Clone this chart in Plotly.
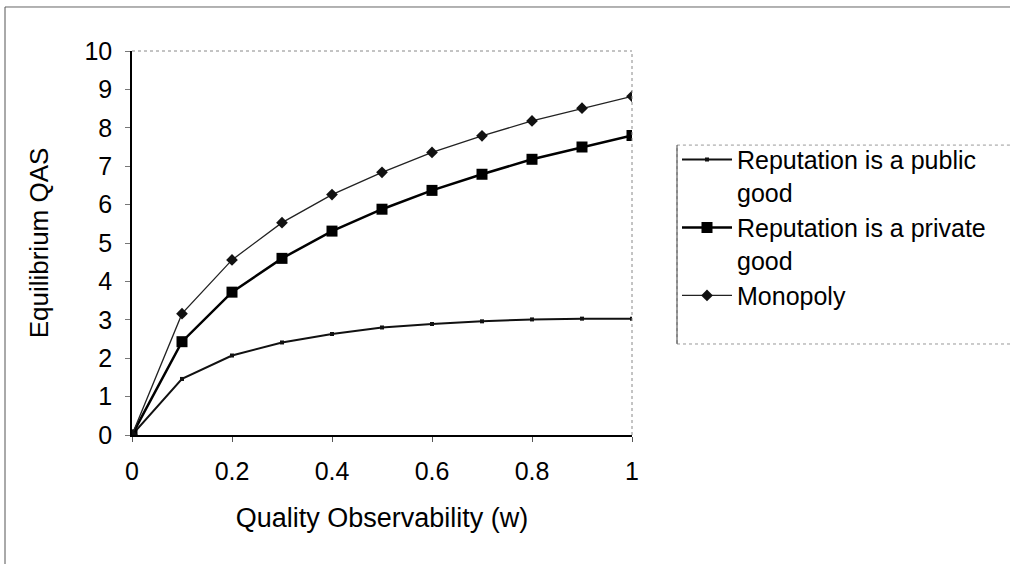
import plotly.graph_objects as go

w = [0, 0.1, 0.2, 0.3, 0.4, 0.5, 0.6, 0.7, 0.8, 0.9, 1.0]
public_good = [0, 1.46, 2.07, 2.41, 2.63, 2.80, 2.89, 2.96, 3.01, 3.03, 3.03]
private_good = [0, 2.43, 3.72, 4.60, 5.31, 5.88, 6.37, 6.79, 7.18, 7.50, 7.80]
monopoly = [0, 3.16, 4.56, 5.53, 6.26, 6.84, 7.36, 7.79, 8.18, 8.51, 8.82]

names = ["Reputation is a public<br>good", "Reputation is a private<br>good", "Monopoly"]
x_ticks = [0, 0.2, 0.4, 0.6, 0.8, 1]
x_labels = ["0", "0.2", "0.4", "0.6", "0.8", "1"]
y_ticks = list(range(0, 11))

FONT = "Liberation Sans, Arial, sans-serif"

fig = go.Figure()
fig.add_trace(go.Scatter(x=w, y=public_good, name=names[0], mode="lines+markers",
                         line=dict(color="#111111", width=2),
                         marker=dict(symbol="square", size=4, color="#111111")))
fig.add_trace(go.Scatter(x=w, y=private_good, name=names[1], mode="lines+markers",
                         line=dict(color="#000000", width=2.5),
                         marker=dict(symbol="square", size=11, color="#000000")))
fig.add_trace(go.Scatter(x=w, y=monopoly, name=names[2], mode="lines+markers",
                         line=dict(color="#222222", width=1.3),
                         marker=dict(symbol="diamond", size=9, color="#111111")))

fig.update_layout(
    width=1010, height=564,
    margin=dict(l=132, r=378, t=51, b=129, autoexpand=False),
    paper_bgcolor="white", plot_bgcolor="white",
    font=dict(family=FONT, size=25, color="#000000"),
    showlegend=True,
    legend=dict(x=1.09, y=0.777, xanchor="left", yanchor="top",
                font=dict(family=FONT, size=25, color="#000000"),
                bgcolor="rgba(0,0,0,0)", borderwidth=0,
                itemwidth=50, valign="top", tracegroupgap=6),
    xaxis=dict(range=[0, 1], tickvals=x_ticks, ticktext=x_labels,
               showgrid=False, zeroline=False, showline=True,
               linecolor="#000000", linewidth=1.5,
               ticks="outside", ticklen=5, tickcolor="#555555",
               ticklabelstandoff=8,
               title=dict(text="Quality Observability (w)", standoff=24,
                          font=dict(size=27))),
    yaxis=dict(range=[0, 10], tickvals=y_ticks,
               showgrid=False, zeroline=False, showline=True,
               linecolor="#000000", linewidth=1.5,
               ticks="outside", ticklen=5, tickcolor="#777777",
               ticklabelstandoff=8,
               title=dict(text="Equilibrium QAS", standoff=28,
                          font=dict(size=26))),
    shapes=[
        # plot area top / right dotted borders
        dict(type="line", xref="paper", yref="paper", x0=0, x1=1, y0=1, y1=1,
             line=dict(color="#888888", width=1, dash="dot")),
        dict(type="line", xref="paper", yref="paper", x0=1, x1=1, y0=0, y1=1,
             line=dict(color="#888888", width=1, dash="dot")),
        # legend box
        dict(type="rect", xref="paper", yref="paper", x0=1.09, x1=1.8, y0=0.237, y1=0.755,
             line=dict(color="#999999", width=1, dash="dot")),
        dict(type="line", xref="paper", yref="paper", x0=1.09, x1=1.09, y0=0.237, y1=0.755,
             line=dict(color="#444444", width=1)),
        # outer chart border
        dict(type="line", xref="paper", yref="paper", x0=-0.254, x1=1.76, y0=1.1146, y1=1.1146,
             line=dict(color="#666666", width=1)),
        dict(type="line", xref="paper", yref="paper", x0=-0.254, x1=-0.254, y0=-0.4, y1=1.1146,
             line=dict(color="#555555", width=1)),
    ],
)

fig.write_html("out.html")
